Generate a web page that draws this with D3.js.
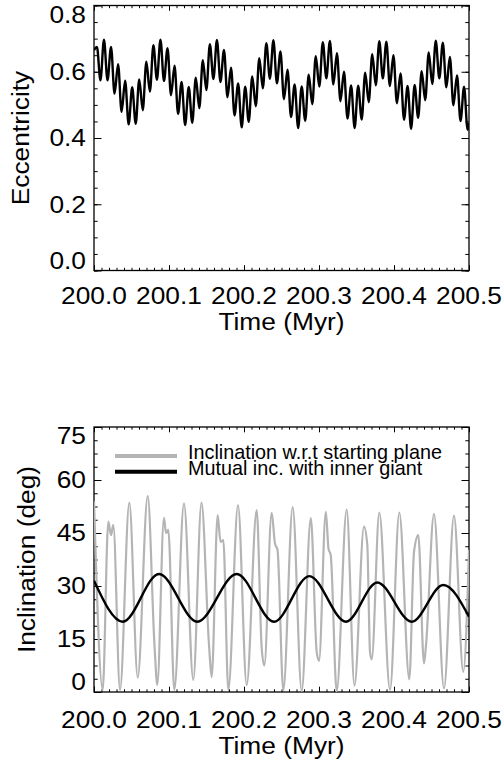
<!DOCTYPE html>
<html><head><meta charset="utf-8">
<script src="https://cdn.jsdelivr.net/npm/d3@7"></script>
<style>body{margin:0;background:#fff}svg{display:block}</style>
</head><body>
<svg id="c" width="504" height="762"></svg>
<script>
// ---------- data ----------
const timeTicks = [200.0, 200.1, 200.2, 200.3, 200.4, 200.5];
const eccTicks = [0.0, 0.2, 0.4, 0.6, 0.8];
const incTicks = [0, 15, 30, 45, 60, 75];

const eccTime = [200.0000,
200.0039,200.0086,200.0133,200.0180,200.0227,200.0274,200.0321,200.0368,200.0415,200.0462,
200.0509,200.0556,200.0603,200.0650,200.0698,200.0745,200.0792,200.0839,200.0886,200.0933,
200.0980,200.1027,200.1074,200.1121,200.1168,200.1215,200.1263,200.1310,200.1357,200.1404,
200.1451,200.1498,200.1545,200.1592,200.1639,200.1686,200.1733,200.1780,200.1827,200.1874,
200.1922,200.1969,200.2016,200.2063,200.2110,200.2157,200.2204,200.2251,200.2298,200.2345,
200.2392,200.2439,200.2486,200.2533,200.2580,200.2627,200.2675,200.2722,200.2769,200.2816,
200.2863,200.2910,200.2957,200.3004,200.3051,200.3098,200.3145,200.3192,200.3239,200.3286,
200.3333,200.3380,200.3428,200.3475,200.3522,200.3569,200.3616,200.3663,200.3710,200.3757,
200.3804,200.3851,200.3898,200.3945,200.3992,200.4039,200.4087,200.4134,200.4181,200.4228,
200.4275,200.4322,200.4369,200.4416,200.4463,200.4510,200.4557,200.4604,200.4651,200.4698,
200.4745,200.4792,200.4840,200.4887,200.4934,200.4981,200.5000];
const eccValue = [0.665,
0.675,0.574,0.697,0.574,0.675,0.534,0.623,0.479,0.573,0.441,
0.553,0.443,0.577,0.484,0.630,0.540,0.680,0.576,0.697,0.572,
0.671,0.529,0.618,0.473,0.569,0.439,0.554,0.446,0.582,0.490,
0.635,0.545,0.683,0.578,0.696,0.569,0.666,0.523,0.612,0.468,
0.565,0.432,0.555,0.449,0.586,0.496,0.641,0.550,0.686,0.579,
0.695,0.565,0.661,0.517,0.606,0.463,0.562,0.430,0.556,0.452,
0.591,0.502,0.647,0.555,0.689,0.580,0.693,0.562,0.656,0.511,
0.600,0.459,0.559,0.430,0.558,0.456,0.597,0.508,0.653,0.559,
0.692,0.580,0.691,0.557,0.650,0.505,0.595,0.455,0.557,0.428,
0.560,0.461,0.602,0.514,0.658,0.563,0.694,0.580,0.688,0.553,
0.645,0.499,0.589,0.451,0.555,0.425,0.445];

const incTime = [200.0000,200.0116,200.0191,200.0227,200.0257,200.0347,200.0471,200.0583,
200.0716,200.0807,200.0844,200.0933,200.0960,200.0991,200.1071,200.1200,200.1324,200.1433,
200.1533,200.1569,200.1649,200.1687,200.1724,200.1791,200.1920,200.2036,200.2169,200.2236,
200.2271,200.2369,200.2413,200.2447,200.2524,200.2649,200.2769,200.2891,200.2969,200.3000,
200.3091,200.3127,200.3156,200.3236,200.3369,200.3473,200.3600,200.3644,200.3680,200.3703,
200.3804,200.3947,200.4071,200.4204,200.4267,200.4324,200.4400,200.4427,200.4533,200.4667,
200.4800,200.4924,200.5000];
const incValue = [54.0,0.6,48.2,44.4,47.3,0.6,53.6,4.1,
55.5,13.0,2.0,49.3,45.0,45.9,0.6,53.4,3.4,53.6,
13.5,4.2,50.1,42.5,43.0,0.6,52.9,2.0,51.5,12.4,
7.5,50.7,42.0,40.2,0.5,52.3,0.3,49.2,11.4,8.8,
51.0,40.5,38.8,0.2,51.6,1.8,46.8,41.6,11.4,9.2,
50.8,0.6,50.8,3.6,39.7,44.4,8.1,13.3,50.4,1.0,
49.9,5.7,40.2];

const mutTime = [200.0000,200.0383,200.0867,200.1377,200.1903,200.2400,200.2871,200.3360,
200.3777,200.4236,200.4657,200.5000];
const mutValue = [31.5,19.9,33.4,19.9,33.4,19.9,32.8,19.9,31.0,19.9,30.3,21.3];

const legendLabels = ["Inclination w.r.t starting plane", "Mutual inc. with inner giant"];
const seriesColors = ["#b4b4b4", "#000000"];

// ---------- drawing ----------
const svg = d3.select("#c");
const FS = 23.5, SX = 1.12, CAP = 0.716 * FS;
const FONT = "Liberation Sans, Arial, Helvetica, sans-serif";

const x = d3.scaleLinear().domain([200, 200.5]).range([94, 469]);

function panel(top, bottom, y, yMajor, yMinorStep, fmt, yTitle, titleX, xLabBase, xTitleBase) {
  const g = svg.append("g");
  const [y0, y1] = y.domain();
  const minorY = d3.range(y0, y1 + 1e-9, yMinorStep);
  const minorX = d3.range(0, 51).map(i => 200 + i * 0.01);
  const xLenMaj = 5.3, xLenMin = 2.7, yLenMaj = 7.5, yLenMin = 3.7;

  const addAxis = (axis, tr) => {
    const a = g.append("g").attr("transform", tr).call(axis);
    a.select(".domain").remove();
    a.selectAll("line").attr("stroke", "#000").attr("stroke-width", 1);
  };
  addAxis(d3.axisBottom(x).tickValues(minorX).tickSize(-xLenMin).tickFormat(""), `translate(0,${bottom})`);
  addAxis(d3.axisBottom(x).tickValues(timeTicks).tickSize(-xLenMaj).tickFormat(""), `translate(0,${bottom})`);
  addAxis(d3.axisTop(x).tickValues(minorX).tickSize(-xLenMin).tickFormat(""), `translate(0,${top})`);
  addAxis(d3.axisTop(x).tickValues(timeTicks).tickSize(-xLenMaj).tickFormat(""), `translate(0,${top})`);
  addAxis(d3.axisLeft(y).tickValues(minorY).tickSize(-yLenMin).tickFormat(""), `translate(94,0)`);
  addAxis(d3.axisLeft(y).tickValues(yMajor).tickSize(-yLenMaj).tickFormat(""), `translate(94,0)`);
  addAxis(d3.axisRight(y).tickValues(minorY).tickSize(-yLenMin).tickFormat(""), `translate(469,0)`);
  addAxis(d3.axisRight(y).tickValues(yMajor).tickSize(-yLenMaj).tickFormat(""), `translate(469,0)`);

  g.append("rect").attr("x", 94).attr("y", top).attr("width", 375).attr("height", bottom - top)
    .attr("fill", "none").attr("stroke", "#000").attr("stroke-width", 1.3);

  // x tick labels
  g.selectAll("text.xl").data(timeTicks).join("text").attr("class", "xl")
    .attr("transform", d => `translate(${x(d)},${xLabBase}) scale(${SX},1)`)
    .attr("text-anchor", "middle").attr("font-family", FONT).attr("font-size", FS)
    .text(d => d.toFixed(1));
  // y tick labels
  g.selectAll("text.yl").data(yMajor).join("text").attr("class", "yl")
    .attr("transform", d => {
      let base = y(d) + CAP / 2;
      if (d === y1) base = top + CAP + 0.5;
      if (d === y0) base = bottom - 2;
      return `translate(86,${base}) scale(${SX},1)`;
    })
    .attr("text-anchor", "end").attr("font-family", FONT).attr("font-size", FS)
    .text(fmt);
  // titles
  g.append("text").attr("transform", `translate(281.5,${xTitleBase}) scale(${SX},1)`)
    .attr("text-anchor", "middle").attr("font-family", FONT).attr("font-size", FS).text("Time (Myr)");
  g.append("text").attr("transform", `translate(${titleX},${(top + bottom) / 2}) rotate(-90) scale(${SX},1)`)
    .attr("text-anchor", "middle").attr("font-family", FONT).attr("font-size", FS).text(yTitle);
  return g;
}

// top panel
const yE = d3.scaleLinear().domain([0, 0.8]).range([270.5, 5.5]);
panel(5.5, 270.5, yE, eccTicks, 0.05, d => d.toFixed(1), "Eccentricity", 28.5, 304, 330);
svg.append("clipPath").attr("id", "cp1").append("rect").attr("x", 94).attr("y", 5.5).attr("width", 375).attr("height", 265);
svg.append("path").attr("clip-path", "url(#cp1)")
  .datum(d3.zip(eccTime, eccValue))
  .attr("d", d3.line().x(d => x(d[0])).y(d => yE(d[1])).curve(d3.curveMonotoneX))
  .attr("fill", "none").attr("stroke", "#000").attr("stroke-width", 2.4).attr("stroke-linejoin", "round");

// bottom panel
const yI = d3.scaleLinear().domain([0, 75]).range([692, 427]);
panel(427, 692, yI, incTicks, 3.75, d => String(d), "Inclination (deg)", 35, 728, 754);
svg.append("clipPath").attr("id", "cp2").append("rect").attr("x", 94).attr("y", 427).attr("width", 375).attr("height", 265);
svg.append("path").attr("clip-path", "url(#cp2)")
  .datum(d3.zip(incTime, incValue))
  .attr("d", d3.line().x(d => x(d[0])).y(d => yI(d[1])).curve(d3.curveMonotoneX))
  .attr("fill", "none").attr("stroke", seriesColors[0]).attr("stroke-width", 2.2).attr("stroke-linejoin", "round");
svg.append("path").attr("clip-path", "url(#cp2)")
  .datum(d3.zip(mutTime, mutValue))
  .attr("d", d3.line().x(d => x(d[0])).y(d => yI(d[1])).curve(d3.curveMonotoneX))
  .attr("fill", "none").attr("stroke", seriesColors[1]).attr("stroke-width", 2.4);

// legend
const lg = svg.append("g");
const legY = [456, 471.7], legTextY = [459.3, 475];
legendLabels.forEach((lab, i) => {
  lg.append("line").attr("x1", 115).attr("x2", 177).attr("y1", legY[i]).attr("y2", legY[i])
    .attr("stroke", seriesColors[i]).attr("stroke-width", 4);
  lg.append("text").attr("x", 188).attr("y", legTextY[i]).attr("font-family", FONT)
    .attr("font-size", 19.8).text(lab);
});
</script>
</body></html>
